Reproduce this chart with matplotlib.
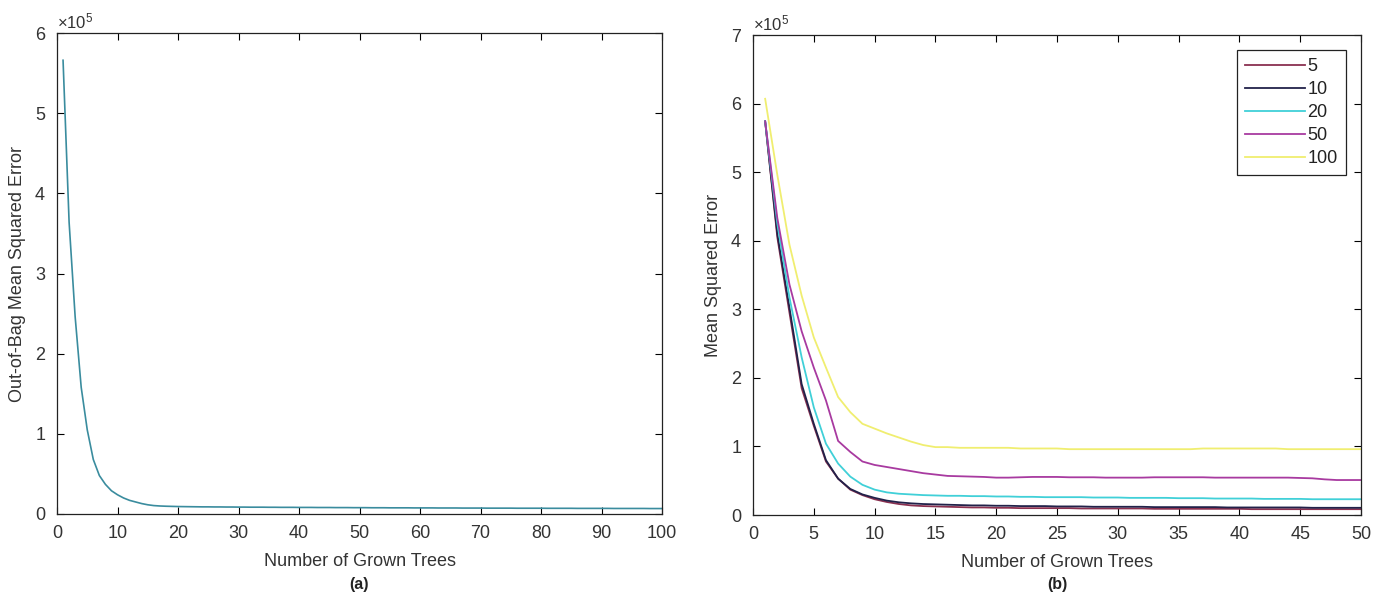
import matplotlib
matplotlib.use("Agg")
import matplotlib.pyplot as plt
from matplotlib.ticker import ScalarFormatter

plt.rcParams['font.family'] = ['Liberation Sans', 'DejaVu Sans']
plt.rcParams['mathtext.fontset'] = 'custom'
plt.rcParams['mathtext.rm'] = 'Liberation Sans'

SCALE = 1e5

# ---- Panel (a): out-of-bag MSE vs number of grown trees (values in 1e5 units)
oob_trees = list(range(1, 101))
oob_mse = [5.66, 3.64, 2.46, 1.58, 1.05, 0.68, 0.48, 0.37, 0.29, 0.24,
           0.20, 0.17, 0.15, 0.13, 0.115, 0.105, 0.100, 0.097, 0.095, 0.093,
           0.092, 0.091, 0.090, 0.089, 0.089, 0.088, 0.088, 0.087, 0.087, 0.086,
           0.086, 0.085, 0.085, 0.085, 0.084, 0.084, 0.083, 0.083, 0.083, 0.082,
           0.082, 0.082, 0.081, 0.081, 0.081, 0.080, 0.080, 0.080, 0.079, 0.079,
           0.079, 0.078, 0.078, 0.078, 0.077, 0.077, 0.077, 0.077, 0.076, 0.076,
           0.076, 0.076, 0.075, 0.075, 0.075, 0.075, 0.074, 0.074, 0.074, 0.074,
           0.073, 0.073, 0.073, 0.073, 0.073, 0.072, 0.072, 0.072, 0.072, 0.072,
           0.071, 0.071, 0.071, 0.071, 0.071, 0.070, 0.070, 0.070, 0.070, 0.070,
           0.070, 0.069, 0.069, 0.069, 0.069, 0.069, 0.069, 0.068, 0.068, 0.068]

# ---- Panel (b): MSE vs number of grown trees for several leaf sizes
mse_trees = list(range(1, 51))
series_labels = ['5', '10', '20', '50', '100']
mse_5 = [5.74, 4.05, 2.95, 1.85, 1.30, 0.78, 0.53, 0.37, 0.29, 0.23,
         0.19, 0.16, 0.14, 0.13, 0.125, 0.12, 0.115, 0.11, 0.11, 0.105,
         0.105, 0.10, 0.10, 0.10, 0.10, 0.10, 0.095, 0.095, 0.095, 0.095,
         0.095, 0.095, 0.09, 0.09, 0.09, 0.09, 0.09, 0.09, 0.09, 0.09,
         0.085, 0.085, 0.085, 0.085, 0.085, 0.085, 0.085, 0.085, 0.085, 0.085]
mse_10 = [5.74, 4.10, 3.02, 1.91, 1.33, 0.80, 0.53, 0.38, 0.30, 0.25,
          0.21, 0.185, 0.17, 0.16, 0.155, 0.15, 0.145, 0.14, 0.14, 0.135,
          0.135, 0.13, 0.13, 0.13, 0.125, 0.125, 0.125, 0.12, 0.12, 0.12,
          0.12, 0.12, 0.115, 0.115, 0.115, 0.115, 0.115, 0.115, 0.11, 0.11,
          0.11, 0.11, 0.11, 0.11, 0.11, 0.105, 0.105, 0.105, 0.105, 0.105]
mse_20 = [5.74, 4.25, 3.17, 2.30, 1.57, 1.04, 0.75, 0.56, 0.44, 0.37,
          0.33, 0.31, 0.30, 0.29, 0.285, 0.28, 0.28, 0.275, 0.275, 0.27,
          0.27, 0.265, 0.265, 0.26, 0.26, 0.26, 0.26, 0.255, 0.255, 0.255,
          0.25, 0.25, 0.25, 0.25, 0.245, 0.245, 0.245, 0.24, 0.24, 0.24,
          0.24, 0.235, 0.235, 0.235, 0.235, 0.23, 0.23, 0.23, 0.23, 0.23]
mse_50 = [5.74, 4.33, 3.36, 2.68, 2.15, 1.67, 1.08, 0.92, 0.78, 0.73,
          0.70, 0.67, 0.64, 0.61, 0.59, 0.57, 0.565, 0.56, 0.555, 0.545,
          0.545, 0.55, 0.555, 0.555, 0.555, 0.55, 0.55, 0.55, 0.545, 0.545,
          0.545, 0.545, 0.55, 0.55, 0.55, 0.55, 0.55, 0.545, 0.545, 0.545,
          0.545, 0.545, 0.545, 0.545, 0.54, 0.535, 0.52, 0.51, 0.51, 0.51]
mse_100 = [6.07, 4.96, 3.94, 3.20, 2.59, 2.15, 1.72, 1.50, 1.33, 1.26,
           1.19, 1.13, 1.07, 1.02, 0.99, 0.99, 0.98, 0.98, 0.98, 0.98,
           0.98, 0.97, 0.97, 0.97, 0.97, 0.96, 0.96, 0.96, 0.96, 0.96,
           0.96, 0.96, 0.96, 0.96, 0.96, 0.96, 0.97, 0.97, 0.97, 0.97,
           0.97, 0.97, 0.97, 0.96, 0.96, 0.96, 0.96, 0.96, 0.96, 0.96]
series_values = [mse_5, mse_10, mse_20, mse_50, mse_100]
series_colors = ['#8a3050', '#22224a', '#40d0d8', '#a83aa0', '#f0ee70']

TEXT = '#333333'
fig = plt.figure(figsize=(13.87, 6.0), dpi=100)
axA = fig.add_axes([57/1387, 86/600, 605/1387, 481/600])
axB = fig.add_axes([753/1387, 85/600, 608/1387, 480/600])


def style(ax):
    ax.tick_params(direction='in', top=True, right=True, labelsize=13,
                   labelcolor=TEXT, length=5, width=0.8, pad=8)
    for s in ax.spines.values():
        s.set_linewidth(0.9)
        s.set_color('#222222')
    fmt = ScalarFormatter(useMathText=True)
    fmt.set_powerlimits((0, 0))
    ax.yaxis.set_major_formatter(fmt)
    ax.yaxis.get_offset_text().set_fontsize(12)
    ax.yaxis.get_offset_text().set_color(TEXT)


axA.plot(oob_trees, [v * SCALE for v in oob_mse], color='#3a8c9e', lw=1.2)
axA.set_xlim(0, 100)
axA.set_ylim(0, 6 * SCALE)
axA.set_xticks(range(0, 101, 10))
axA.set_yticks([i * SCALE for i in range(0, 7)])
style(axA)
axA.set_xlabel('Number of Grown Trees', fontsize=13, color=TEXT, labelpad=8)
axA.set_ylabel('Out-of-Bag Mean Squared Error', fontsize=13, color=TEXT, labelpad=6)

for lab, vals, col in zip(series_labels, series_values, series_colors):
    axB.plot(mse_trees, [v * SCALE for v in vals], color=col, lw=1.3, label=lab)
axB.set_xlim(0, 50)
axB.set_ylim(0, 7 * SCALE)
axB.set_xticks(range(0, 51, 5))
axB.set_yticks([i * SCALE for i in range(0, 8)])
style(axB)
axB.set_xlabel('Number of Grown Trees', fontsize=13, color=TEXT, labelpad=8)
axB.set_ylabel('Mean Squared Error', fontsize=13, color=TEXT, labelpad=6)
leg = axB.legend(loc='upper right', bbox_to_anchor=(0.975, 0.969), borderaxespad=0,
                 fontsize=13, handlelength=3.3, handletextpad=0.15, labelspacing=0.33,
                 borderpad=0.45, fancybox=False, framealpha=1, edgecolor='#222222')
leg.get_frame().set_linewidth(0.9)
for t in leg.get_texts():
    t.set_color('#222222')

fig.text((57 + 662) / 2 / 1387, 1 - 585 / 600, '(a)', ha='center', va='center',
         fontsize=11.5, fontweight='bold', color='#222222')
fig.text((753 + 1361) / 2 / 1387, 1 - 585 / 600, '(b)', ha='center', va='center',
         fontsize=11.5, fontweight='bold', color='#222222')

fig.savefig('out.png', dpi=100, facecolor='white')
